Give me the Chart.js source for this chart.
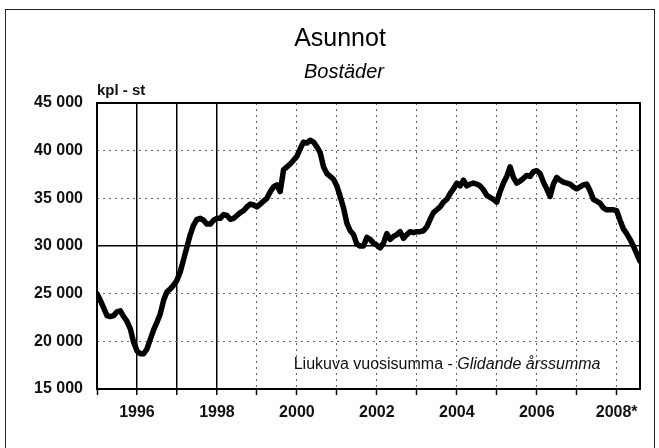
<!DOCTYPE html>
<html>
<head>
<meta charset="utf-8">
<script src="https://cdn.jsdelivr.net/npm/chart.js@4.4.1/dist/chart.umd.min.js"></script>
<style>
  html, body { margin: 0; padding: 0; background: #fff; }
  #wrap { position: relative; width: 659px; height: 448px; overflow: hidden; }
  #frame {
    position: absolute; left: 5px; top: 9px; width: 648px; height: 460px;
    border: 1.5px solid #222; pointer-events: none;
  }
</style>
</head>
<body>
<div id="wrap">
  <canvas id="chart" width="659" height="448"></canvas>
  <div id="frame"></div>
</div>
<script>
// monthly moving annual sum, Jan 1995 .. Aug 2008
const startYear = 1995;
const values = [
  25000, 24300, 23500, 22700, 22600, 22700, 23100, 23200, 22600, 22100, 21300, 19900,
  19000, 18700, 18700, 19200, 20200, 21200, 22000, 22900, 24300, 25200, 25500, 25900,
  26400, 27300, 28600, 29900, 31200, 32200, 32800, 32900, 32700, 32300, 32300, 32700,
  32900, 32900, 33300, 33200, 32800, 32900, 33200, 33500, 33700, 34100, 34400, 34300,
  34100, 34400, 34700, 35000, 35700, 36200, 36400, 35700, 38000, 38300, 38600, 39000,
  39400, 40200, 40900, 40800, 41100, 40900, 40400, 39800, 38300, 37600, 37300, 37000,
  36300, 35200, 34000, 32400, 31600, 31200, 30200, 30000, 30000, 30900, 30700, 30300,
  30100, 29800, 30300, 31300, 30700, 31000, 31200, 31500, 30800, 31200, 31500, 31400,
  31500, 31500, 31600, 32000, 32800, 33500, 33800, 34100, 34600, 34900, 35500, 36000,
  36600, 36300, 36900, 36300, 36500, 36600, 36500, 36300, 35900, 35300, 35100, 34900,
  34600, 35700, 36600, 37300, 38300, 37200, 36600, 36800, 37100, 37400, 37300, 37800,
  37900, 37600, 36700, 36000, 35200, 36500, 37200, 36900, 36700, 36600, 36500, 36200,
  36000, 36200, 36400, 36500, 35800, 34900, 34700, 34500, 34000, 33800, 33800, 33800,
  33700, 32700, 31800, 31300, 30700, 30000, 29200, 28400
];
const yTicks = [15000, 20000, 25000, 30000, 35000, 40000, 45000];
const solidYears = [1996, 1997, 1998];
const solidValues = [30000];

const title = "Asunnot";
const subtitle = "Bostäder";
const unitLabel = "kpl - st";
const noteFi = "Liukuva vuosisumma - ";
const noteSv = "Glidande årssumma";

const FONT = "'Liberation Sans', Arial, sans-serif";

const points = values.map((v, i) => ({ x: startYear + i / 12, y: v }));
const xMax = startYear + (values.length - 1) / 12;

const extras = {
  id: "extras",
  afterDatasetsDraw(chart) {
    const { ctx, chartArea: a, scales } = chart;
    ctx.save();
    // plot frame
    ctx.strokeStyle = "#000";
    ctx.lineWidth = 2;
    ctx.strokeRect(a.left, a.top, a.right - a.left, a.bottom - a.top);

    // headings (the original sits a bit right of the page centre)
    ctx.fillStyle = "#000";
    ctx.textAlign = "center";
    ctx.textBaseline = "middle";
    ctx.font = "25px " + FONT;
    ctx.fillText(title, 340, 39);
    ctx.font = "italic 20px " + FONT;
    ctx.fillText(subtitle, 344, 72);

    // unit label above the y axis
    ctx.fillStyle = "#111";
    ctx.font = "bold 15px " + FONT;
    ctx.textBaseline = "alphabetic";
    ctx.textAlign = "left";
    ctx.fillText(unitLabel, a.left, a.top - 8);

    // note inside plot
    const nx = scales.x.getPixelForValue(1999.92);
    const ny = scales.y.getPixelForValue(17600);
    ctx.textBaseline = "middle";
    ctx.font = "16px " + FONT;
    ctx.fillText(noteFi, nx, ny);
    const w = ctx.measureText(noteFi).width;
    ctx.font = "italic 16px " + FONT;
    ctx.fillText(noteSv, nx + w, ny);
    ctx.restore();
  }
};

new Chart(document.getElementById("chart"), {
  type: "line",
  data: {
    datasets: [{
      data: points,
      borderColor: "#000",
      borderWidth: 5.5,
      borderJoinStyle: "round",
      borderCapStyle: "round",
      pointRadius: 0,
      tension: 0,
      fill: false
    }]
  },
  options: {
    responsive: false,
    animation: false,
    layout: { padding: { left: 12, right: 19, top: 103, bottom: 19 } },
    plugins: {
      legend: { display: false },
      tooltip: { enabled: false },
      title: { display: false },
      subtitle: { display: false }
    },
    scales: {
      x: {
        type: "linear",
        min: startYear,
        max: xMax,
        afterFit(s) { s.height = 40; },
        ticks: {
          stepSize: 1,
          includeBounds: false,
          autoSkip: false,
          maxRotation: 0,
          padding: 8,
          color: "#111",
          font: { family: FONT, size: 16, weight: "bold" },
          callback: (v) => (v % 2 === 0 ? (v === 2008 ? "2008*" : String(v)) : "")
        },
        grid: {
          color: (c) => (solidYears.includes(c.tick && c.tick.value) ? "#000" : "#666"),
          lineWidth: (c) => (solidYears.includes(c.tick && c.tick.value) ? 1.5 : 1),
          tickColor: "#000",
          tickLength: 6,
          tickWidth: 1.5
        },
        border: {
          display: false,
          dash: (c) => (solidYears.includes(c.tick && c.tick.value) ? [] : [2, 4])
        }
      },
      y: {
        min: yTicks[0],
        max: yTicks[yTicks.length - 1],
        afterFit(s) { s.width = 85; },
        afterBuildTicks(s) { s.ticks = yTicks.map((v) => ({ value: v })); },
        ticks: {
          padding: 14,
          color: "#111",
          font: { family: FONT, size: 16, weight: "bold" },
          callback: (v) => Math.floor(v / 1000) + " 000"
        },
        grid: {
          drawTicks: false,
          color: (c) => (solidValues.includes(c.tick && c.tick.value) ? "#000" : "#666"),
          lineWidth: (c) => (solidValues.includes(c.tick && c.tick.value) ? 1.5 : 1)
        },
        border: {
          display: false,
          dash: (c) => (solidValues.includes(c.tick && c.tick.value) ? [] : [2, 4])
        }
      }
    }
  },
  plugins: [extras]
});
</script>
</body>
</html>
